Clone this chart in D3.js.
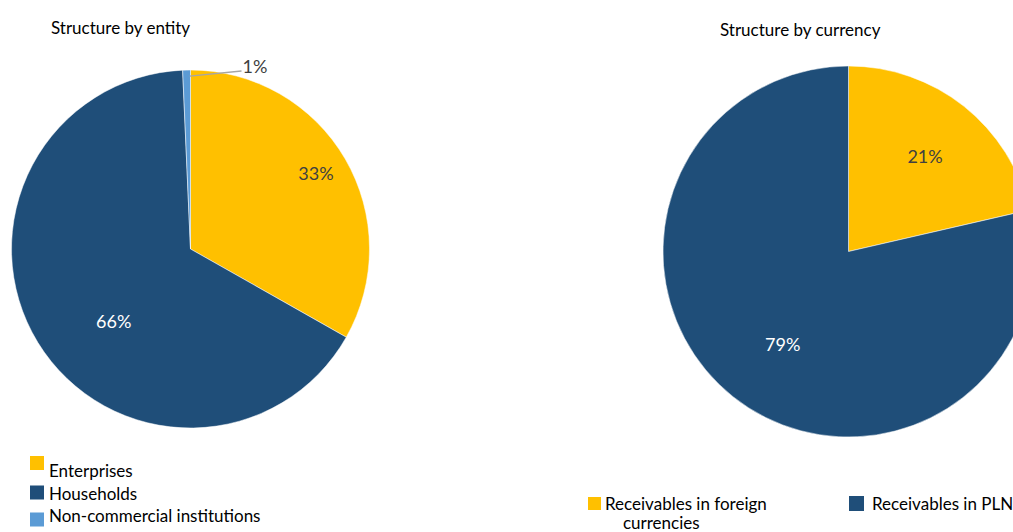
<!DOCTYPE html>
<html><head><meta charset="utf-8">
<script src="https://cdn.jsdelivr.net/npm/d3@7"></script>
<style>body{margin:0;background:#fff}svg{display:block}text{font-family:Lato,"Open Sans",sans-serif}</style>
</head><body>
<svg id="c" width="1013" height="532"></svg>
<script>
const entityCategories = ["Enterprises", "Households", "Non-commercial institutions"];
const entityValues = [33.2, 66.1, 0.7];
const entityLabels = ["33%", "66%", "1%"];
const currencyCategories = ["Receivables in foreign currencies", "Receivables in PLN"];
const currencyValues = [21.4, 78.6];
const currencyLabels = ["21%", "79%"];
const entityColors = ["#FFC000", "#1F4E79", "#5B9BD5"];
const currencyColors = ["#FFC000", "#1F4E79"];

const svg = d3.select("#c");
const pie = d3.pie().sort(null).value(d => d);

function drawPie(values, colors, cx, cy, r) {
  const g = svg.append("g").attr("transform", `translate(${cx},${cy})`);
  const arcs = pie(values);
  const arc = d3.arc().innerRadius(0).outerRadius(r);
  g.selectAll("path").data(arcs).join("path")
    .attr("d", arc).attr("fill", (d, i) => colors[i])
    .attr("stroke", "#fff").attr("stroke-width", 0.5);
  return {g, arcs, arc};
}

// label placement: radius fraction and angular shift (degrees) per slice
function placeLabel(g, a, r, frac, shiftDeg, text, color) {
  const mid = (a.startAngle + a.endAngle) / 2 + shiftDeg * Math.PI / 180;
  const x = Math.sin(mid) * r * frac, y = -Math.cos(mid) * r * frac;
  g.append("text").attr("x", x).attr("y", y).attr("text-anchor", "middle")
    .attr("dominant-baseline", "central").attr("font-size", 18)
    .attr("fill", color).text(text);
}

// Left pie
const rL = 179;
const L = drawPie(entityValues, entityColors, 190.5, 249, rL);
placeLabel(L.g, L.arcs[0], rL, 0.82, -1, entityLabels[0], "#404040");
placeLabel(L.g, L.arcs[1], rL, 0.587, -11.5, entityLabels[1], "#ffffff");
{
  const a = L.arcs[2];
  const mid = (a.startAngle + a.endAngle) / 2;
  const p0 = [Math.sin(mid) * 173 + 3, -Math.cos(mid) * 173];
  L.g.append("line").attr("x1", p0[0]).attr("y1", p0[1]).attr("x2", 51).attr("y2", -178)
    .attr("stroke", "#A6A6A6").attr("stroke-width", 1.3);
  L.g.append("text").attr("x", 52).attr("y", -176).attr("font-size", 18)
    .attr("fill", "#404040").text(entityLabels[2]);
}

// Right pie
const rR = 185.5;
const R = drawPie(currencyValues, currencyColors, 848.5, 251.5, rR);
placeLabel(R.g, R.arcs[0], rR, 0.66, 0.2, currencyLabels[0], "#404040");
placeLabel(R.g, R.arcs[1], rR, 0.61, -3, currencyLabels[1], "#ffffff");

// Titles
svg.append("text").attr("x", 51).attr("y", 34).attr("font-size", 17).attr("fill", "#000").text("Structure by entity");
svg.append("text").attr("x", 720).attr("y", 36).attr("font-size", 17).attr("fill", "#000").text("Structure by currency");

// Left legend
const legRectY = [456, 485.5, 512.5];
const legTextY = [477, 500, 522];
entityCategories.forEach((n, i) => {
  svg.append("rect").attr("x", 30).attr("y", legRectY[i]).attr("width", 14).attr("height", 14).attr("fill", entityColors[i]);
  svg.append("text").attr("x", 49).attr("y", legTextY[i]).attr("font-size", 17).attr("fill", "#000").text(n);
});

// Right legend
svg.append("rect").attr("x", 588).attr("y", 497).attr("width", 13).attr("height", 13).attr("fill", currencyColors[0]);
const t1 = svg.append("text").attr("font-size", 17).attr("fill", "#000");
t1.append("tspan").attr("x", 605).attr("y", 510).text("Receivables in foreign");
t1.append("tspan").attr("x", 623).attr("y", 529).text("currencies");
svg.append("rect").attr("x", 849).attr("y", 496).attr("width", 15).attr("height", 15).attr("fill", currencyColors[1]);
svg.append("text").attr("x", 872).attr("y", 510).attr("font-size", 17).attr("fill", "#000").text(currencyCategories[1]);
</script>
</body></html>
